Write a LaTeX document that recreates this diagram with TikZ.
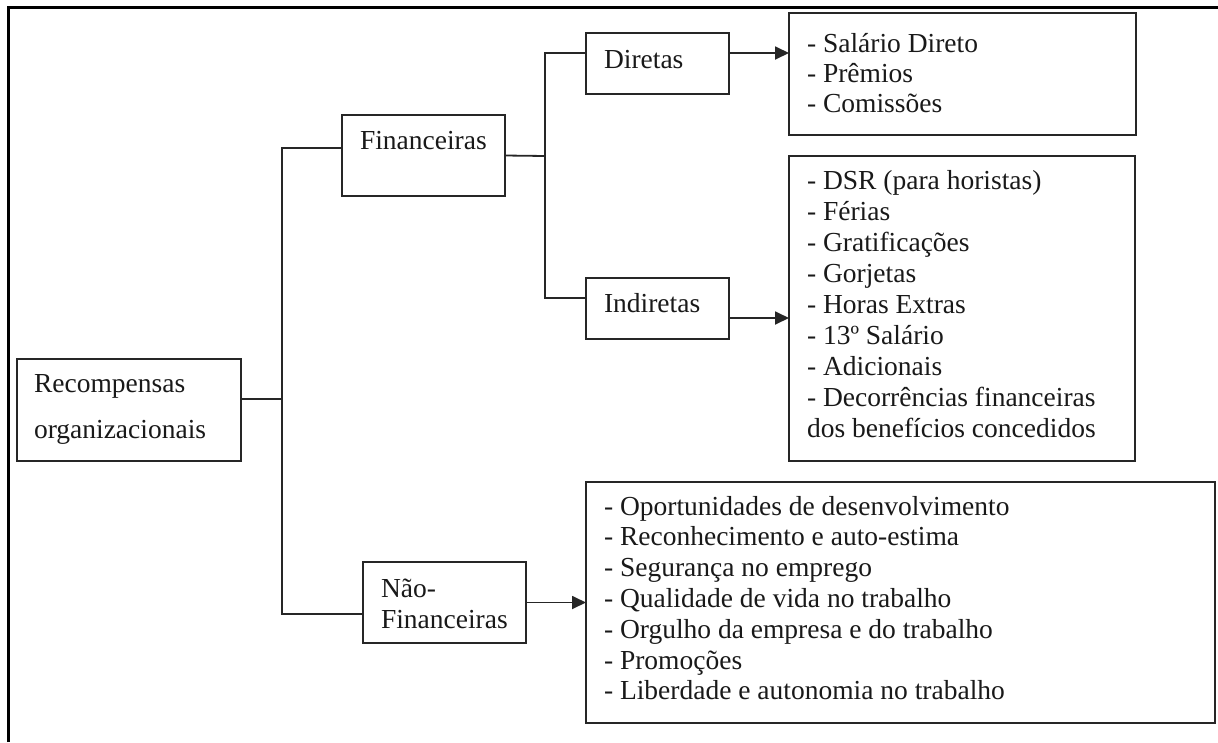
\documentclass[tikz,border=0pt]{standalone}
\usepackage{fontspec}
\setmainfont{Liberation Serif}
\usetikzlibrary{arrows.meta}
\begin{document}
\begin{tikzpicture}[x=1pt,y=-1pt,
  box/.style={draw=black!85,line width=1.8pt,inner sep=0pt,outer sep=0pt,anchor=north west},
  txt/.style={anchor=base west,inner sep=0pt,outer sep=0pt,text=black!90,font=\fontsize{27.5pt}{31pt}\selectfont},
  conn/.style={line width=1.8pt,draw=black!85},
  arr/.style={conn,-{Triangle[length=14pt,width=13pt]}},
  frame/.style={line width=2.8pt,draw=black,line join=miter}]
\useasboundingbox (0,0) rectangle (1218,742);
% outer frame
\draw[frame] (8.7,742) -- (8.7,7.5) -- (1218,7.5);
% boxes
\node[box,minimum width=224pt,minimum height=102pt] (rec) at (17,359) {};
\node[box,minimum width=163pt,minimum height=81pt] (fin) at (342,115) {};
\node[box,minimum width=163pt,minimum height=81pt] (nf) at (363,562) {};
\node[box,minimum width=143pt,minimum height=61pt] (dir) at (586,33) {};
\node[box,minimum width=143pt,minimum height=61pt] (ind) at (586,278) {};
\node[box,minimum width=347pt,minimum height=122pt] (sal) at (789,13) {};
\node[box,minimum width=346pt,minimum height=305pt] (dsr) at (789,156) {};
\node[box,minimum width=629pt,minimum height=241pt] (nfl) at (586,482) {};
% box texts
\node[txt] (recT1) at (34,392) {Recompensas};
\node[txt] (recT2) at (34,438) {organizacionais};
\node[txt] (finT) at (360,149) {Financeiras};
\node[txt] (nfT1) at (381,597) {Não-};
\node[txt] (nfT2) at (381,628) {Financeiras};
\node[txt] (dirT) at (604,68) {Diretas};
\node[txt] (indT) at (604,312) {Indiretas};
\foreach \t [count=\i from 0] in {{- Salário Direto},{- Prêmios},{- Comissões}}
  \node[txt] (salT\i) at (807,{52+30*\i}) {\t};
\foreach \t [count=\i from 0] in {{- DSR (para horistas)},{- Férias},{- Gratificações},{- Gorjetas},{- Horas Extras},{- 13º Salário},{- Adicionais},{- Decorrências financeiras},{dos benefícios concedidos}}
  \node[txt] (dsrT\i) at (807,{189+31.1*\i}) {\t};
\foreach \t [count=\i from 0] in {{- Oportunidades de desenvolvimento},{- Reconhecimento e auto-estima},{- Segurança no emprego},{- Qualidade de vida no trabalho},{- Orgulho da empresa e do trabalho},{- Promoções},{- Liberdade e autonomia no trabalho}}
  \node[txt] (nflT\i) at (604,{515+30.8*\i}) {\t};
% connectors
\coordinate (trunk) at (282,399);
\coordinate (fork) at (545,156);
\draw[conn] ([yshift=11pt]rec.east) -- (trunk);
\draw[conn] ([yshift=7.5pt]fin.west) -| (trunk) |- ([yshift=-11.5pt]nf.west);
\draw[conn] (fin.east) -- (fork);
\draw[conn] ([yshift=10.5pt]dir.west) -| (fork) |- ([yshift=10.5pt]ind.west);
\draw[arr] ([yshift=10.5pt]dir.east) -- ([yshift=10.5pt]dir.east -| sal.west);
\draw[arr] ([yshift=-9.5pt]ind.east) -- ([yshift=-9.5pt]ind.east -| dsr.west);
\draw[arr] (nf.east) -- (nf.east -| nfl.west);
\end{tikzpicture}
\end{document}
